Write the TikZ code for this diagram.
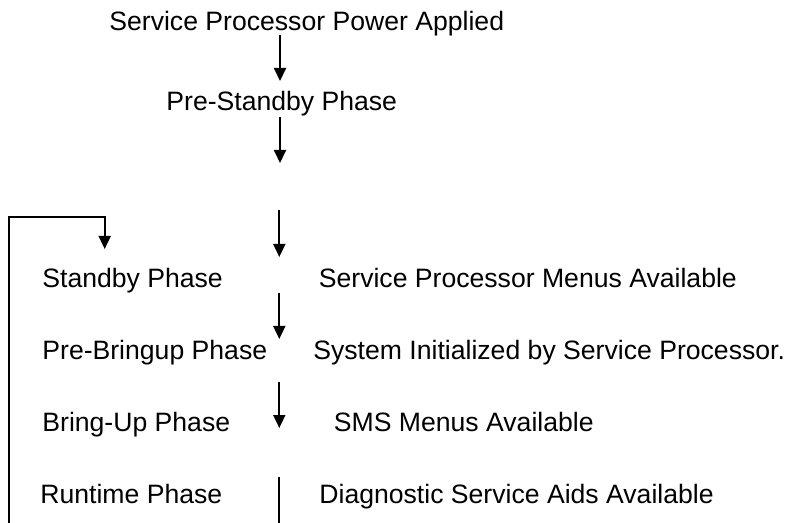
\documentclass[tikz,border=0pt]{standalone}
\usepackage{fontspec}
\setmainfont{Liberation Sans}
\usetikzlibrary{arrows.meta}

\tikzset{
    phase/.style={anchor=base west, inner sep=0pt, font=\fontsize{13.3}{16}\selectfont},
    flow/.style={line width=0.9pt, -{Triangle[width=6pt,length=6.5pt]}},
    plain/.style={line width=0.9pt},
}

\begin{document}
\begin{tikzpicture}[x=0.5pt, y=-0.5pt]
        \useasboundingbox (0,0) rectangle (786,523);
        % phases
        \node[phase] (power) at (109,31) {Service Processor Power Applied};
        \node[phase] (prestby) at (166,111) {Pre-Standby Phase};
        \node[phase] (stby) at (42,288) {Standby Phase};
        \node[phase] (prebring) at (42,359) {Pre-Bringup Phase};
        \node[phase] (bring) at (42,431) {Bring-Up Phase};
        \node[phase] (run) at (40,503) {Runtime Phase};
        % what is available
        \node[phase] (spmenu) at (318.5,288) {Service Processor Menus Available};
        \node[phase] (sysinit) at (313,359) {System Initialized by Service Processor.};
        \node[phase] (sms) at (333.5,431) {SMS Menus Available};
        \node[phase] (diag) at (319,503) {Diagnostic Service Aids Available};
        % arrow ends
        \coordinate (a1) at (280,35);   \coordinate (b1) at (280,81);
        \coordinate (a2) at (280,117);  \coordinate (b2) at (280,163);
        \coordinate (a3) at (279.3,210);  \coordinate (b3) at (279.3,257);
        \coordinate (a4) at (279.3,293);  \coordinate (b4) at (279.3,339);
        \coordinate (a5) at (279.3,382);  \coordinate (b5) at (279.3,428);
        \coordinate (a6) at (279.3,477);  \coordinate (b6) at (279.3,523);
        \coordinate (loop) at (9,523);
        \coordinate (back) at (104.7,249);
        \draw[flow] (a1) -- (b1);
        \draw[flow] (a2) -- (b2);
        \draw[flow] (a3) -- (b3);
        \draw[flow] (a4) -- (b4);
        \draw[flow] (a5) -- (b5);
        \draw[plain] (a6) -- (b6);
        \draw[flow] (loop) |- (104.7,216.7) -- (back);
\end{tikzpicture}
\end{document}
